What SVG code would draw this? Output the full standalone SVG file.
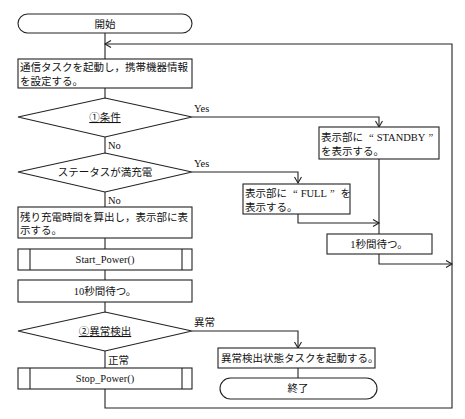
<svg xmlns="http://www.w3.org/2000/svg" width="465" height="419" viewBox="0 0 465 419">
<defs>
<style>
.s{fill:#fff;stroke:#222;stroke-width:1.1}
.c{fill:none;stroke:#222;stroke-width:1.1}
text{font-family:"Liberation Serif","Noto Sans CJK JP",serif;font-size:10.5px;fill:#111}
.m{text-anchor:middle}
.u{text-decoration:underline}
.q{font-family:"Noto Sans CJK JP",sans-serif}
</style>
<marker id="a" markerUnits="userSpaceOnUse" markerWidth="10" markerHeight="10" refX="7" refY="4" orient="auto">
<path d="M1,0.5 L7,4 L1,7.5" fill="none" stroke="#222" stroke-width="1.1"/>
</marker>
</defs>
<rect width="465" height="419" fill="#fff"/>
<g id="connectors">
<path class="c" d="M105,33 V59"/>
<path class="c" d="M105,88 V98"/>
<path class="c" d="M192,117 H379 V127" marker-end="url(#a)"/>
<path class="c" d="M105,137 V153"/>
<path class="c" d="M192,172 H298 V183" marker-end="url(#a)"/>
<path class="c" d="M105,192 V207"/>
<path class="c" d="M105,238 V249"/>
<path class="c" d="M105,270 V280"/>
<path class="c" d="M105,302 V312"/>
<path class="c" d="M192,331 H298 V348" marker-end="url(#a)"/>
<path class="c" d="M105,351 V368"/>
<path class="c" d="M298,368 V378"/>
<path class="c" d="M298,214 V223 H379" marker-end="url(#a)"/>
<path class="c" d="M379,159 V234"/>
<path class="c" d="M379,254 V264 H452" marker-end="url(#a)"/>
<path class="c" d="M105,389 V408 H452 V44 H105" marker-end="url(#a)"/>
</g>
<g id="start">
<rect class="s" x="18" y="14" width="174" height="19" rx="9.5"/>
<text class="m" x="105" y="27.5">開始</text>
</g>
<g id="box1">
<rect class="s" x="18" y="59" width="174" height="29"/>
<text x="20" y="70.5">通信タスクを起動し，携帯機器情報</text>
<text x="20" y="85">を設定する。</text>
</g>
<g id="cond1">
<polygon class="s" points="105,98 192,117 105,137 18,117"/>
<text class="m u" x="105" y="121"><tspan class="q">①</tspan>条件</text>
<text x="194" y="112">Yes</text>
<text x="108" y="149">No</text>
</g>
<g id="standby">
<rect class="s" x="319" y="127" width="120" height="32"/>
<text x="321" y="141">表示部に<tspan dx="6">“</tspan><tspan dx="3">STANDBY</tspan><tspan dx="3">”</tspan></text>
<text x="321" y="155">を表示する。</text>
</g>
<g id="cond2">
<polygon class="s" points="105,153 192,172 105,192 18,172"/>
<text class="m" x="105" y="176">ステータスが満充電</text>
<text x="194" y="167">Yes</text>
<text x="108" y="204">No</text>
</g>
<g id="full">
<rect class="s" x="243" y="184" width="107" height="30"/>
<text x="245" y="197">表示部に<tspan dx="6">“</tspan><tspan dx="3">FULL</tspan><tspan dx="3">”</tspan><tspan dx="6">を</tspan></text>
<text x="245" y="211">表示する。</text>
</g>
<g id="box3">
<rect class="s" x="18" y="207" width="174" height="31"/>
<text x="20" y="221">残り充電時間を算出し，表示部に表</text>
<text x="20" y="234">示する。</text>
</g>
<g id="wait1">
<rect class="s" x="327" y="234" width="105" height="20"/>
<text class="m" x="379" y="248">1秒間待つ。</text>
</g>
<g id="startpower">
<rect class="s" x="18" y="249" width="174" height="21"/>
<path class="c" d="M30,249 V270 M182,249 V270"/>
<text class="m" x="105" y="263">Start_Power()</text>
</g>
<g id="wait10">
<rect class="s" x="18" y="280" width="174" height="22"/>
<text class="m" x="105" y="295">10秒間待つ。</text>
</g>
<g id="cond3">
<polygon class="s" points="105,312 192,331 105,351 18,331"/>
<text class="m u" x="105" y="335"><tspan class="q">②</tspan>異常検出</text>
<text x="194" y="326">異常</text>
<text x="108" y="364">正常</text>
</g>
<g id="error">
<rect class="s" x="218" y="348" width="157" height="20"/>
<text x="221" y="362">異常検出状態タスクを起動する。</text>
</g>
<g id="stoppower">
<rect class="s" x="18" y="368" width="174" height="21"/>
<path class="c" d="M30,368 V389 M182,368 V389"/>
<text class="m" x="105" y="382">Stop_Power()</text>
</g>
<g id="end">
<rect class="s" x="220" y="378" width="157" height="21" rx="10.5"/>
<text class="m" x="298" y="392">終了</text>
</g>
</svg>
